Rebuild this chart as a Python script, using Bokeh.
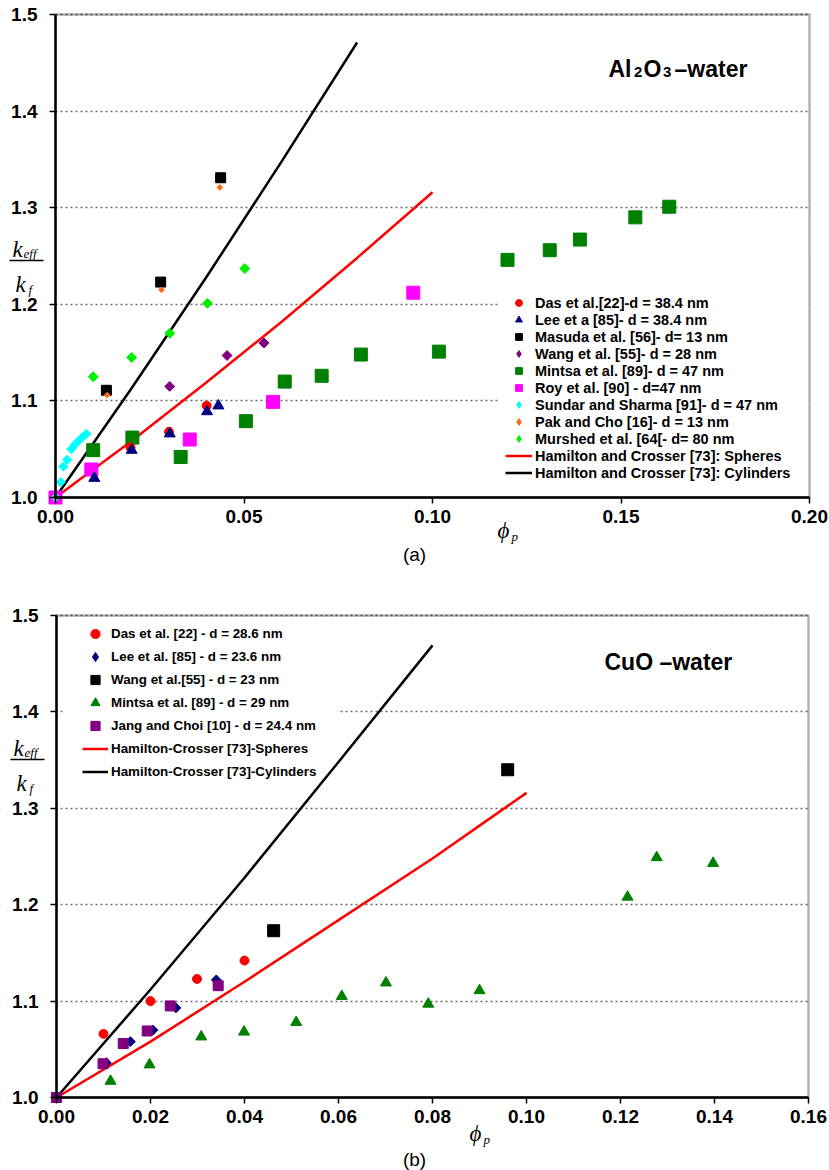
import math

from bokeh.embed import file_html
from bokeh.layouts import column
from bokeh.models import (BoxAnnotation, FixedTicker, Label, Legend, LegendItem,
                          NumeralTickFormatter, Range1d)
from bokeh.plotting import figure
from bokeh.resources import INLINE

SANS = "Liberation Sans"
SERIF = "Liberation Serif"

# ---------------- Panel (a): Al2O3 - water ----------------
a_xticks = [0.0, 0.05, 0.10, 0.15, 0.20]
yticks = [1.0, 1.1, 1.2, 1.3, 1.4, 1.5]

das_a_x = [0.0199, 0.0301, 0.0401]
das_a_y = [1.052, 1.068, 1.095]
lee_a_x = [0.0103, 0.0202, 0.0303, 0.0402, 0.0432]
lee_a_y = [1.020, 1.049, 1.066, 1.089, 1.095]
masuda_x = [0.0135, 0.0279, 0.0438]
masuda_y = [1.111, 1.223, 1.331]
wang_a_x = [0.0303, 0.0455, 0.0553]
wang_a_y = [1.115, 1.147, 1.160]
mintsa_a_x = [0.0100, 0.0204, 0.0332, 0.0505, 0.0608, 0.0706, 0.0810, 0.1017,
              0.1199, 0.1311, 0.1391, 0.1538, 0.1628]
mintsa_a_y = [1.049, 1.062, 1.042, 1.079, 1.120, 1.126, 1.148, 1.151,
              1.246, 1.256, 1.267, 1.290, 1.301]
roy_x = [0.0, 0.0095, 0.0356, 0.0577, 0.0949]
roy_y = [1.0, 1.029, 1.060, 1.099, 1.212]
sundar_x = [0.0, 0.0014, 0.0021, 0.0031, 0.0042, 0.0052, 0.0062, 0.0073, 0.0082]
sundar_y = [1.0, 1.016, 1.032, 1.039, 1.050, 1.055, 1.059, 1.063, 1.066]
pak_x = [0.0, 0.0137, 0.0281, 0.0436]
pak_y = [1.0, 1.106, 1.215, 1.321]
murshed_x = [0.0100, 0.0202, 0.0303, 0.0403, 0.0502]
murshed_y = [1.125, 1.145, 1.170, 1.201, 1.237]

hc_sph_a_x = [0.0, 0.02, 0.04, 0.06, 0.08, 0.10]
hc_sph_a_y = [1.0, 1.058, 1.119, 1.182, 1.248, 1.316]
hc_cyl_a_x = [0.0, 0.02, 0.04, 0.06, 0.08]
hc_cyl_a_y = [1.0, 1.112, 1.228, 1.348, 1.471]

a_labels = [
    "Das et al.[22]-d = 38.4 nm",
    "Lee et a [85]- d = 38.4 nm",
    "Masuda et al. [56]- d= 13 nm",
    "Wang et al. [55]- d = 28 nm",
    "Mintsa et al. [89]- d = 47 nm",
    "Roy et al. [90] - d=47 nm",
    "Sundar and Sharma [91]- d = 47 nm",
    "Pak and Cho [16]- d = 13 nm",
    "Murshed et al. [64[- d= 80 nm",
    "Hamilton and Crosser [73]: Spheres",
    "Hamilton and Crosser [73]: Cylinders",
]

# ---------------- Panel (b): CuO - water ----------------
b_xticks = [0.0, 0.02, 0.04, 0.06, 0.08, 0.10, 0.12, 0.14, 0.16]

das_b_x = [0.0100, 0.0200, 0.0299, 0.0400]
das_b_y = [1.066, 1.100, 1.123, 1.142]
lee_b_x = [0.0106, 0.0157, 0.0205, 0.0254, 0.0340]
lee_b_y = [1.036, 1.058, 1.070, 1.093, 1.122]
wang_b_x = [0.0462, 0.0960]
wang_b_y = [1.173, 1.340]
mintsa_b_x = [0.0115, 0.0198, 0.0308, 0.0399, 0.0510, 0.0607, 0.0701, 0.0791,
              0.0900, 0.1215, 0.1277, 0.1397]
mintsa_b_y = [1.017, 1.034, 1.063, 1.068, 1.078, 1.105, 1.119, 1.097,
              1.111, 1.208, 1.249, 1.243]
jang_x = [0.0, 0.0099, 0.0142, 0.0193, 0.0242, 0.0344]
jang_y = [1.0, 1.035, 1.056, 1.069, 1.095, 1.116]

hc_sph_b_x = [0.0, 0.02, 0.04, 0.06, 0.08, 0.10]
hc_sph_b_y = [1.0, 1.058, 1.120, 1.184, 1.248, 1.316]
hc_cyl_b_x = [0.0, 0.02, 0.04, 0.06, 0.08]
hc_cyl_b_y = [1.0, 1.112, 1.228, 1.348, 1.469]

b_labels = [
    "Das et al. [22] - d = 28.6 nm",
    "Lee et al. [85] - d = 23.6 nm",
    "Wang et al.[55] - d = 23 nm",
    "Mintsa et al. [89] - d = 29 nm",
    "Jang and Choi [10] - d = 24.4 nm",
    "Hamilton-Crosser [73]-Spheres",
    "Hamilton-Crosser [73]-Cylinders",
]

RED = "#ff0000"
NAVY = "#000080"
PURPLE = "#800080"
DKGREEN = "#008000"
MAGENTA = "#ff00ff"
CYAN = "#00ffff"
ORANGE = "#ff6a10"
LIME = "#00f000"
DIAMOND = math.pi / 4
NAN = [float("nan")]

W = 829


class Panel:
    """A figure whose frame fills the whole canvas; the plot box sits inside it
    with fixed pixel margins, and the axes are pinned to the box edges.
    Text positions are given in page pixels (top-left origin)."""

    def __init__(self, top, height, xmax, xticks, m_left, m_right, m_top, m_bottom):
        self.top = top
        self.h = height
        xs = (W - m_left - m_right) / xmax
        ys = (height - m_top - m_bottom) / 0.5
        p = figure(frame_width=W, frame_height=height, min_border=0,
                   x_range=Range1d(-m_left / xs, xmax + m_right / xs),
                   y_range=Range1d(1.0 - m_bottom / ys, 1.5 + m_top / ys),
                   output_backend="svg", toolbar_location=None,
                   background_fill_color="white", border_fill_color="white")
        p.outline_line_color = None
        p.xaxis.ticker = FixedTicker(ticks=xticks)
        p.yaxis.ticker = FixedTicker(ticks=yticks)
        p.xaxis.formatter = NumeralTickFormatter(format="0.00")
        p.yaxis.formatter = NumeralTickFormatter(format="0.0")
        p.xaxis.fixed_location = 1.0
        p.yaxis.fixed_location = 0.0
        p.xaxis.bounds = (0.0, xmax)
        p.yaxis.bounds = (1.0, 1.5)
        for ax in (p.xaxis, p.yaxis):
            ax.axis_line_width = 2.5
            ax.axis_line_color = "black"
            ax.major_tick_in = 0
            ax.major_tick_out = 6
            ax.major_tick_line_width = 1.5
            ax.major_tick_line_color = "black"
            ax.minor_tick_line_color = None
            ax.major_label_text_font = SANS
            ax.major_label_text_font_style = "bold"
            ax.major_label_text_font_size = "19px"
            ax.major_label_text_color = "black"
        p.yaxis.major_label_standoff = 12
        p.xaxis.major_label_standoff = 6
        p.xgrid.grid_line_color = None
        p.ygrid.grid_line_color = "#6a6a6a"
        p.ygrid.grid_line_dash = "2 3"
        p.ygrid.grid_line_width = 1.3
        self.p = p
        self.xmax = xmax
        # keep the dotted grid inside the plot box
        self.white_box(0, m_left - 1, top, top + height)
        self.white_box(W - m_right + 1, W, top, top + height)

    def sy(self, page_y):
        return self.h - (page_y - self.top)

    def white_box(self, x0, x1, y0, y1):
        self.p.add_layout(BoxAnnotation(
            left=x0, right=x1, bottom=self.sy(y1), top=self.sy(y0),
            left_units="screen", right_units="screen",
            top_units="screen", bottom_units="screen",
            fill_color="white", fill_alpha=1, line_alpha=0, level="underlay"))

    def plot_box(self):
        self.p.add_layout(BoxAnnotation(
            left=0.0, right=self.xmax, bottom=1.0, top=1.5,
            fill_alpha=0, line_color="black", line_width=2.5))

    def text(self, x, y, s, font=SANS, size="19px", style="normal", align="left"):
        self.p.add_layout(Label(x=x, y=self.sy(y), x_units="screen", y_units="screen",
                                text=s, text_font=font, text_font_size=size,
                                text_font_style=style, text_color="black",
                                text_align=align, text_baseline="alphabetic"))

    def fraction(self, x, base):
        # k_eff over k_f, stacked, left of the y axis
        self.text(x, base, "k", SERIF, "23px", "italic")
        self.text(x + 11, base + 4, "eff", SERIF, "13px", "italic")
        self.p.add_layout(BoxAnnotation(
            left=x - 3, right=x + 31, bottom=self.sy(base + 11.7), top=self.sy(base + 10.3),
            left_units="screen", right_units="screen",
            top_units="screen", bottom_units="screen",
            fill_color="black", fill_alpha=1, line_alpha=0))
        self.text(x + 3, base + 35, "k", SERIF, "23px", "italic")
        self.text(x + 16, base + 40, "f", SERIF, "13px", "italic")

    def phi(self, x, base):
        self.text(x, base, "\u03d5", SERIF, "23px", "italic", "center")
        self.text(x + 8, base + 6, "p", SERIF, "13px", "italic")

    def legend(self, labels, keys, x, bottom_y, **kw):
        self.p.add_layout(Legend(
            items=[LegendItem(label=t, renderers=[r]) for t, r in zip(labels, keys)],
            location=(x, self.sy(bottom_y)), padding=0, margin=0, label_standoff=3,
            spacing=0, label_text_font=SANS, label_text_font_style="bold",
            label_text_color="black", background_fill_alpha=0, border_line_alpha=0,
            **kw))


# ---------------- build panel (a) ----------------
A = Panel(0, 566, 0.20, a_xticks, 55, 20, 14, 69)
pa = A.p
A.white_box(497, 809, 285, 492)

r_sph_a = pa.line(hc_sph_a_x, hc_sph_a_y, line_color=RED, line_width=2.5)
r_cyl_a = pa.line(hc_cyl_a_x, hc_cyl_a_y, line_color="black", line_width=2.5)
r_mintsa_a = pa.scatter(mintsa_a_x, mintsa_a_y, marker="square", size=13,
                        fill_color=DKGREEN, line_color=DKGREEN)
r_roy = pa.scatter(roy_x, roy_y, marker="square", size=13,
                   fill_color=MAGENTA, line_color=MAGENTA)
r_das_a = pa.scatter(das_a_x, das_a_y, marker="circle", size=9,
                     fill_color=RED, line_color=RED)
r_lee_a = pa.scatter(lee_a_x, lee_a_y, marker="triangle", size=11,
                     fill_color=NAVY, line_color=NAVY)
r_masuda = pa.scatter(masuda_x, masuda_y, marker="square", size=10,
                      fill_color="black", line_color="black")
r_wang_a = pa.scatter(wang_a_x, wang_a_y, marker="square", size=7, angle=DIAMOND,
                      fill_color=PURPLE, line_color=PURPLE)
r_sundar = pa.scatter(sundar_x, sundar_y, marker="square", size=6.5, angle=DIAMOND,
                      fill_color=CYAN, line_color=CYAN)
r_pak = pa.scatter(pak_x, pak_y, marker="square", size=4, angle=DIAMOND,
                   fill_color=ORANGE, line_color=ORANGE)
r_murshed = pa.scatter(murshed_x, murshed_y, marker="square", size=7, angle=DIAMOND,
                       fill_color=LIME, line_color=LIME)

# diamond swatches for the legend (a single NaN point draws nothing in the plot)
k_wang_a = pa.scatter(NAN, NAN, marker="diamond", fill_color=PURPLE, line_color=PURPLE)
k_sundar = pa.scatter(NAN, NAN, marker="diamond", fill_color=CYAN, line_color=CYAN)
k_pak = pa.scatter(NAN, NAN, marker="diamond", fill_color=ORANGE, line_color=ORANGE)
k_murshed = pa.scatter(NAN, NAN, marker="diamond", fill_color=LIME, line_color=LIME)

A.legend(a_labels,
         [r_das_a, r_lee_a, r_masuda, k_wang_a, r_mintsa_a, r_roy,
          k_sundar, k_pak, k_murshed, r_sph_a, r_cyl_a],
         505, 481, glyph_width=27, glyph_height=17, label_height=17,
         label_text_font_size="14.5px")
A.plot_box()

# title: Al2O3 -water, subscripts set as separate pieces
A.text(608, 68.5, "Al", SANS, "23px", "bold")
A.text(633.5, 71, "2", SANS, "15px", "bold")
A.text(643, 68.5, "O", SANS, "23px", "bold")
A.text(662.5, 71, "3", SANS, "15px", "bold")
A.text(674, 68.5, "\u2013water", SANS, "23px", "bold")

A.fraction(12, 249)
A.phi(503, 530)
A.text(414, 554, "(a)", SANS, "19px", "normal", "center")

# ---------------- build panel (b) ----------------
B = Panel(566, 604, 0.16, b_xticks, 56, 21, 49, 73)
pb = B.p
B.white_box(63, 337, 618, 785)

r_sph_b = pb.line(hc_sph_b_x, hc_sph_b_y, line_color=RED, line_width=2.5)
r_cyl_b = pb.line(hc_cyl_b_x, hc_cyl_b_y, line_color="black", line_width=2.5)
r_mintsa_b = pb.scatter(mintsa_b_x, mintsa_b_y, marker="triangle", size=11,
                        fill_color=DKGREEN, line_color=DKGREEN)
r_das_b = pb.scatter(das_b_x, das_b_y, marker="circle", size=9,
                     fill_color=RED, line_color=RED)
r_lee_b = pb.scatter(lee_b_x, lee_b_y, marker="square", size=7, angle=DIAMOND,
                     fill_color=NAVY, line_color=NAVY)
r_jang = pb.scatter(jang_x, jang_y, marker="square", size=10,
                    fill_color=PURPLE, line_color=PURPLE)
r_wang_b = pb.scatter(wang_b_x, wang_b_y, marker="square", size=12,
                      fill_color="black", line_color="black")
k_lee_b = pb.scatter(NAN, NAN, marker="diamond", fill_color=NAVY, line_color=NAVY)

B.legend(b_labels,
         [r_das_b, k_lee_b, r_wang_b, r_mintsa_b, r_jang, r_sph_b, r_cyl_b],
         82, 783, glyph_width=26, glyph_height=23, label_height=20,
         label_text_font_size="13.4px")
B.plot_box()

B.text(604, 661.7, "CuO \u2013water", SANS, "23px", "bold")

B.fraction(13, 748)
B.phi(475, 1133)
B.text(414, 1159, "(b)", SANS, "19px", "normal", "center")

layout = column(pa, pb, spacing=0)
open("out.html", "w").write(file_html(layout, INLINE))
